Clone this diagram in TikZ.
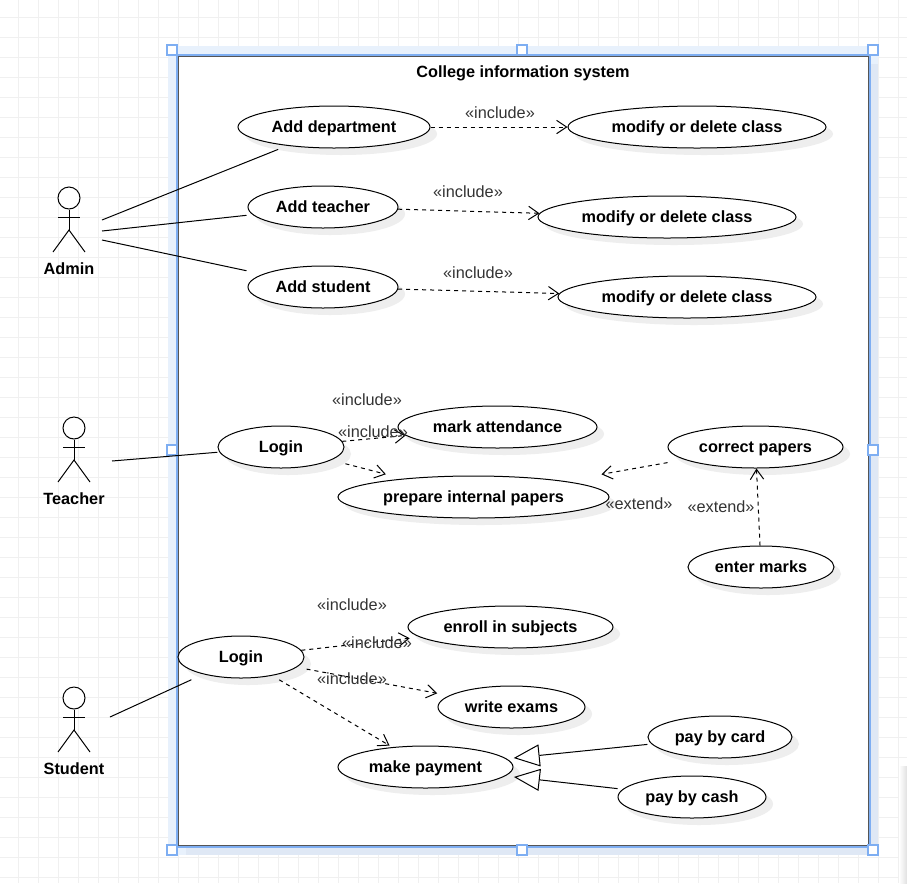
\documentclass[tikz,border=0pt]{standalone}
\usepackage{fontspec}
\setmainfont{Liberation Sans}
\usepackage{xcolor}
\usetikzlibrary{shapes.geometric, arrows.meta, shadows}
\newlength{\unitpx}
\setlength{\unitpx}{0.75pt}
\newcommand{\diagramfont}{\fontsize{12.2pt}{14pt}\selectfont}
\definecolor{gridgray}{HTML}{F0F0F0}
\definecolor{bandblue}{HTML}{E8F1FC}
\definecolor{banddark}{HTML}{DFE8F5}
\definecolor{selblue}{HTML}{7EAEF2}
\definecolor{shadegray}{HTML}{EEEEEE}
\definecolor{boxgray}{HTML}{555555}
\definecolor{labelgray}{HTML}{333333}
\tikzset{
    usecase/.style ={ellipse, draw, fill=white, inner sep=0pt, minimum height=42\unitpx,
        font=\diagramfont\bfseries, text height=10pt, text depth=2.5pt,
        drop shadow={shadow xshift=7\unitpx, shadow yshift=-7\unitpx, fill=shadegray, opacity=1}},
    head/.style ={circle, draw, fill=white, inner sep=0pt, minimum size=22\unitpx},
    actorname/.style ={font=\diagramfont\bfseries, inner sep=0pt, text height=10pt, text depth=2.5pt},
    stereo/.style ={font=\diagramfont, text=labelgray, inner sep=0pt},
    handle/.style ={rectangle, draw=selblue, fill=white, line width=1.5\unitpx, inner sep=0pt, minimum size=10\unitpx},
    incl/.style ={dash pattern=on 3pt off 3pt, -{Straight Barb[length=7.5pt, width=10pt]}},
    general/.style ={-{Triangle[open, length=19.5pt, width=16.5pt]}}
    }

\begin{document}
\begin{tikzpicture}[
      x = 0.75pt, y = -0.75pt, % picture is measured in pixels
      line width = 1\unitpx
    ]
    \useasboundingbox (0, 0) rectangle (907, 883);

    % paper grid
    \foreach \gx in {18, 38, ..., 898}
        \draw[gridgray] (\gx, 0) -- (\gx, 883);
    \foreach \gy in {17, 37, ..., 877}
        \draw[gridgray] (0, \gy) -- (907, \gy);

    % panel edge at the lower right
    \fill[left color=white, right color=black!12] (899, 766) rectangle (907, 883);

    % system box with its selection frame
    \fill[bandblue] (168, 46) rectangle (878, 855);
    \fill[banddark] (186, 64) rectangle (878, 855);
    \draw[selblue, line width=2\unitpx] (176.5, 54.5) rectangle (869.5, 846.5);
    \draw[boxgray, fill=white] (178, 56) rectangle (868, 845);
    \foreach \hname/\hx/\hy in {nw/172/50, n/522/50, ne/873/50, w/172/450,
                                e/873/450, sw/172/850, s/522/850, se/873/850}
        \node[handle] (handle\hname) at (\hx, \hy) {};
    \node[actorname] (title) at (523, 72) {College information system};

    % actors
    \foreach \aname/\ax/\ay/\alabel in {admin/69/198/Admin, teacher/74/428/Teacher, student/74/698/Student} {
        \node[head] (\aname) at (\ax, \ay) {};
        \coordinate (\aname hip) at (\ax, \ay + 32);
        \draw (\aname) -- (\aname hip);
        \draw (\ax - 11, \ay + 19) -- (\ax + 11, \ay + 19);
        \draw (\ax - 16, \ay + 54) -- (\aname hip) -- (\ax + 16, \ay + 54);
        \node[actorname] (\aname name) at (\ax, \ay + 71) {\alabel};
    }
    \coordinate (admin1) at (102, 220);
    \coordinate (admin2) at (102, 231);
    \coordinate (admin3) at (102, 240);
    \coordinate (teacherhand) at (112, 461);
    \coordinate (studenthand) at (110, 717);

    % use cases
    \node[usecase, minimum width=192\unitpx] (adddept) at (334, 127) {Add department};
    \node[usecase, minimum width=258\unitpx] (modifya) at (697, 127) {modify or delete class};
    \node[usecase, minimum width=150\unitpx] (addteach) at (323, 207) {Add teacher};
    \node[usecase, minimum width=258\unitpx] (modifyb) at (667, 217) {modify or delete class};
    \node[usecase, minimum width=150\unitpx] (addstud) at (323, 287) {Add student};
    \node[usecase, minimum width=258\unitpx] (modifyc) at (687, 297) {modify or delete class};
    \node[usecase, minimum width=126\unitpx] (logint) at (281, 447) {Login};
    \node[usecase, minimum width=199\unitpx] (mark) at (497.5, 427) {mark attendance};
    \node[usecase, minimum width=271\unitpx] (prepare) at (473.5, 497) {prepare internal papers};
    \node[usecase, minimum width=175\unitpx] (correct) at (755.5, 447) {correct papers};
    \node[usecase, minimum width=146\unitpx] (enter) at (761, 567) {enter marks};
    \node[usecase, minimum width=126\unitpx] (logins) at (241, 657) {Login};
    \node[usecase, minimum width=205\unitpx] (enroll) at (510.5, 627) {enroll in subjects};
    \node[usecase, minimum width=147\unitpx] (write) at (511.5, 707) {write exams};
    \node[usecase, minimum width=175\unitpx] (payment) at (425.5, 767) {make payment};
    \node[usecase, minimum width=144\unitpx] (card) at (720, 737) {pay by card};
    \node[usecase, minimum width=148\unitpx] (cash) at (692, 797) {pay by cash};

    % actor links
    \path (admin1) edge[shorten >=9.7\unitpx] (adddept);
    \path (admin2) edge[shorten >=6\unitpx] (addteach);
    \path (admin3) edge[shorten >=16.4\unitpx] (addstud);
    \path (teacherhand) edge[shorten >=2\unitpx] (logint);
    \path (studenthand) edge[shorten >=13\unitpx] (logins);

    % include and extend
    \path (adddept) edge[incl] (modifya);
    \path (addteach) edge[incl] (modifyb);
    \path (addstud) edge[incl] (modifyc);
    \path (logint) edge[incl] (mark);
    \path (logint) edge[incl, shorten <=14.5\unitpx, shorten >=17.5\unitpx] (prepare);
    \path (correct) edge[incl, shorten <=17\unitpx, shorten >=38\unitpx] (prepare);
    \path (enter) edge[incl] (correct);
    \path (logins) edge[incl, shorten >=10\unitpx] (enroll);
    \path (logins) edge[incl, shorten <=10\unitpx, shorten >=12\unitpx] (write);
    \path (logins) edge[incl, shorten <=8\unitpx, shorten >=3\unitpx] (payment);

    % generalisation
    \path (card) edge[general, shorten <=4\unitpx, shorten >=7\unitpx] (payment);
    \path (cash) edge[general, shorten <=5\unitpx, shorten >=8.5\unitpx] (payment);

    % stereotype labels
    \node[stereo] (lbla) at (500, 113) {«include»};
    \node[stereo] (lblb) at (468, 192) {«include»};
    \node[stereo] (lblc) at (478, 273) {«include»};
    \node[stereo] (lbld) at (367, 400) {«include»};
    \node[stereo] (lble) at (373, 432) {«include»};
    \node[stereo] (lblf) at (639, 504) {«extend»};
    \node[stereo] (lblg) at (721, 507) {«extend»};
    \node[stereo] (lblh) at (352, 605) {«include»};
    \node[stereo] (lbli) at (377, 643) {«include»};
    \node[stereo] (lblj) at (352, 679) {«include»};
\end{tikzpicture}
\end{document}
